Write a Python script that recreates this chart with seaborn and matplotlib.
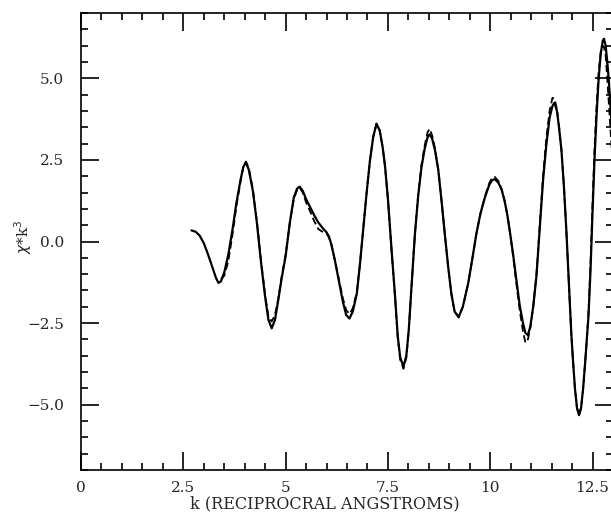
import numpy as np
import pandas as pd
import seaborn as sns
import matplotlib
matplotlib.use("Agg")
import matplotlib.pyplot as plt
from matplotlib.ticker import MultipleLocator, FixedLocator, FixedFormatter

# k values (reciprocal angstroms)
k_vals = [2.70, 2.80, 2.90, 3.00, 3.10, 3.20, 3.30, 3.36, 3.42, 3.50,
          3.60, 3.70, 3.80, 3.90, 3.97, 4.03, 4.10, 4.20, 4.30, 4.40,
          4.50, 4.58, 4.66, 4.74, 4.82, 4.90, 5.00, 5.10, 5.20, 5.28,
          5.34, 5.42, 5.50, 5.60, 5.70, 5.80, 5.90, 6.00, 6.06, 6.12,
          6.20, 6.30, 6.40, 6.48, 6.56, 6.64, 6.74, 6.82, 6.90, 6.98,
          7.06, 7.14, 7.22, 7.30, 7.37, 7.43, 7.50, 7.59, 7.67, 7.74,
          7.80, 7.88, 7.95, 8.01, 8.08, 8.16, 8.24, 8.32, 8.40, 8.47,
          8.52, 8.58, 8.65, 8.73, 8.81, 8.89, 8.97, 9.05, 9.13, 9.23,
          9.33, 9.46, 9.56, 9.66, 9.76, 9.87, 9.98, 10.05, 10.11, 10.20,
          10.28, 10.35, 10.42, 10.48, 10.56, 10.64, 10.72, 10.80, 10.86, 10.92,
          10.98, 11.05, 11.13, 11.21, 11.29, 11.37, 11.45, 11.52, 11.57, 11.63,
          11.68, 11.74, 11.80, 11.86, 11.90, 11.94, 11.98, 12.02, 12.07, 12.12,
          12.17, 12.22, 12.27, 12.32, 12.36, 12.40, 12.45, 12.50, 12.55, 12.60,
          12.65, 12.70, 12.75, 12.78, 12.82, 12.86, 12.90, 12.95, 13.00]

# measured chi*k^3 (solid)
chi_exp = [0.34, 0.30, 0.18, -0.05, -0.38, -0.75, -1.12, -1.27, -1.22, -0.95,
           -0.40, 0.35, 1.20, 1.90, 2.30, 2.42, 2.20, 1.55, 0.55, -0.65,
           -1.70, -2.40, -2.66, -2.40, -1.80, -1.15, -0.45, 0.55, 1.35, 1.62,
           1.68, 1.55, 1.30, 1.05, 0.80, 0.58, 0.42, 0.28, 0.15, -0.10,
           -0.55, -1.20, -1.85, -2.25, -2.36, -2.15, -1.60, -0.65, 0.44, 1.50,
           2.47, 3.20, 3.61, 3.40, 2.90, 2.30, 1.30, -0.27, -1.60, -2.90,
           -3.55, -3.83, -3.50, -2.70, -1.30, 0.23, 1.40, 2.27, 2.85, 3.20,
           3.28, 3.15, 2.80, 2.20, 1.25, 0.23, -0.75, -1.60, -2.15, -2.31,
           -2.00, -1.29, -0.55, 0.23, 0.85, 1.35, 1.75, 1.88, 1.91, 1.80,
           1.58, 1.25, 0.80, 0.30, -0.40, -1.19, -1.95, -2.50, -2.80, -2.87,
           -2.60, -2.00, -1.05, 0.40, 1.86, 2.95, 3.79, 4.15, 4.25, 4.00,
           3.50, 2.80, 1.70, 0.34, -0.70, -1.80, -2.80, -3.60, -4.50, -5.10,
           -5.32, -5.10, -4.50, -3.70, -3.00, -2.30, -0.90, 0.90, 2.57, 3.90,
           5.00, 5.75, 6.15, 6.21, 6.00, 5.50, 4.90, 3.90, 2.90]

# fitted chi*k^3 (dashed), starts at k = 3.42
nan = np.nan
chi_fit = [nan, nan, nan, nan, nan, nan, nan, nan, -1.15, -1.05,
           -0.60, 0.20, 1.10, 1.85, 2.30, 2.45, 2.25, 1.60, 0.60, -0.60,
           -1.65, -2.30, -2.45, -2.25, -1.75, -1.10, -0.40, 0.55, 1.30, 1.58,
           1.65, 1.50, 1.20, 0.92, 0.62, 0.38, 0.30, 0.24, 0.12, -0.12,
           -0.55, -1.15, -1.75, -2.10, -2.22, -2.05, -1.55, -0.65, 0.44, 1.50,
           2.47, 3.20, 3.60, 3.40, 2.90, 2.30, 1.30, -0.30, -1.65, -2.95,
           -3.62, -3.90, -3.55, -2.70, -1.30, 0.25, 1.45, 2.35, 2.95, 3.35,
           3.45, 3.25, 2.85, 2.20, 1.25, 0.23, -0.75, -1.60, -2.15, -2.33,
           -2.00, -1.29, -0.55, 0.23, 0.85, 1.38, 1.80, 1.95, 1.98, 1.85,
           1.60, 1.25, 0.80, 0.30, -0.45, -1.30, -2.10, -2.75, -3.10, -3.00,
           -2.65, -2.00, -1.00, 0.50, 2.00, 3.15, 4.00, 4.40, 4.38, 4.05,
           3.55, 2.80, 1.70, 0.34, -0.70, -1.80, -2.80, -3.60, -4.50, -5.10,
           -5.30, -5.10, -4.50, -3.70, -3.00, -2.20, -0.70, 1.20, 2.90, 4.20,
           5.20, 5.80, 6.00, 5.95, 5.70, 5.00, 4.20, 3.20, 2.20]

x_ticks = [0, 2.5, 5, 7.5, 10, 12.5]
x_labels = ["0", "2.5", "5", "7.5", "10", "12.5"]
y_ticks = [-5, -2.5, 0, 2.5, 5]
y_labels = ["\u22125.0", "\u22122.5", "0.0", "2.5", "5.0"]

df = pd.DataFrame({"k": k_vals, "exp": chi_exp, "fit": chi_fit})

sns.set_style("ticks")
plt.rcParams["font.family"] = ["DejaVu Serif"]

fig = plt.figure(figsize=(6.11, 5.15), dpi=100)
# right spine sits just past the image edge, as in the original scan
ax = fig.add_axes([81 / 611, 45 / 515, 532 / 611, 457 / 515])

sns.lineplot(data=df, x="k", y="exp", ax=ax, color="black", linewidth=1.6, sort=False)
sns.lineplot(data=df.dropna(), x="k", y="fit", ax=ax, color="black", linewidth=1.3,
             linestyle=(0, (4, 2)), sort=False)

ax.set_xlim(0, 13)
ax.set_ylim(-7, 7)

ax.xaxis.set_major_locator(FixedLocator(x_ticks))
ax.xaxis.set_major_formatter(FixedFormatter(x_labels))
ax.yaxis.set_major_locator(FixedLocator(y_ticks))
ax.yaxis.set_major_formatter(FixedFormatter(y_labels))
ax.xaxis.set_minor_locator(MultipleLocator(0.5))
ax.yaxis.set_minor_locator(MultipleLocator(0.5))

ax.tick_params(which="both", direction="in", top=True, right=True, color="black")
ax.tick_params(which="major", length=13, width=1.2)
ax.tick_params(which="minor", length=5, width=1.2)
ax.tick_params(axis="y", which="major", pad=12, labelsize=11)
ax.tick_params(axis="x", which="major", pad=8, labelsize=11)

for s in ax.spines.values():
    s.set_linewidth(1.2)
    s.set_color("black")

ax.set_xlabel("k (RECIPROCRAL ANGSTROMS)", fontsize=11.5)
ax.xaxis.set_label_coords(0.459, -0.055)
ax.set_ylabel(r"$\chi$*k$^3$", fontsize=11)
ax.yaxis.set_label_coords(-0.089, 0.51)

fig.savefig("out.png", dpi=100)
